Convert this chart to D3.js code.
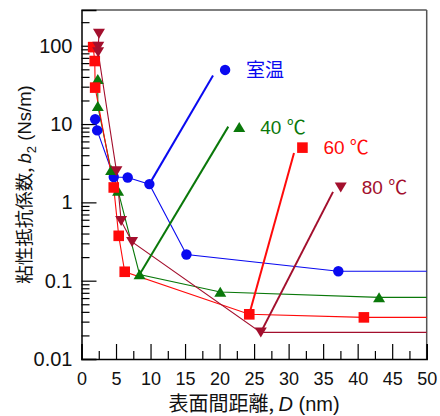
<!DOCTYPE html>
<html><head><meta charset="utf-8">
<script src="https://cdn.jsdelivr.net/npm/d3@7"></script>
<style>
html,body{margin:0;padding:0;background:#fff;}
text{font-family:"Liberation Sans",Arial,"Noto Sans CJK JP",sans-serif;}
</style></head>
<body><svg id="c" width="440" height="416"></svg>
<script>
// ---- data ----
const xTickValues = [0,5,10,15,20,25,30,35,40,45,50];
const yTickValues = [0.01,0.1,1,10,100];
const yTickLabels = ["0.01","0.1","1","10","100"];

const seriesNames = ["室温","40 ℃","60 ℃","80 ℃"];

const dRT = [1.98, 2.27, 4.67, 6.69, 9.83, 15.2, 37.2];
const bRT = [11.5, 8.3, 2.11, 2.08, 1.71, 0.216, 0.132];

const d40 = [2.36, 2.36, 4.29, 5.30, 8.41, 20.1, 43.1];
const b40 = [37.3, 16.9, 2.57, 1.40, 0.120, 0.0716, 0.0612];

const d60 = [1.69, 1.92, 1.98, 4.67, 5.39, 6.26, 24.3, 40.9];
const b60 = [96, 63.8, 29.2, 1.55, 0.374, 0.130, 0.0372, 0.0340];

const d80 = [2.53, 2.43, 2.41, 5.06, 5.74, 7.33, 25.97];
const b80 = [143, 98, 83, 2.52, 0.58, 0.313, 0.0219];

// label annotations (data coordinates)
const labelMarkD = [20.8, 22.85, 32.0, 37.55];
const labelMarkB = [49.1, 9.1, 5.0, 1.56];
const leaderStartIndex = [4, 4, 6, 6];
const leaderEndD = [19.05, 21.26, 30.78, 36.43];
const leaderEndB = [41.8, 9.27, 4.28, 1.36];

// ---- styles ----
const colors = ["#0a0af0", "#0a780a", "#ff0a0a", "#a30f2d"];
const shapes = ["circle", "up", "square", "down"];

const svg = d3.select("#c");
const L = 81.5, R = 426.7, T = 10, B = 359;
const x = d3.scaleLinear().domain([0,50]).range([L,R]);
const y = d3.scaleLog().domain([0.01, 286]).range([B,T]);

// minor ticks
const xMinor = d3.range(2.5, 50, 5);
const yMinor = [];
for (let e=-2; e<=2; e++) for (let k=2;k<=9;k++){ const v=k*Math.pow(10,e); if (v<=286) yMinor.push(v); }

const g = svg.append("g");
// frame
g.append("line").attr("x1",L).attr("x2",R).attr("y1",T).attr("y2",T).attr("stroke","#555").attr("stroke-width",1.5);
g.append("line").attr("x1",R).attr("x2",R).attr("y1",T).attr("y2",B).attr("stroke","#555").attr("stroke-width",1.5);

// x axis
const xAxis = d3.axisBottom(x).tickValues(xTickValues).tickSize(-15).tickPadding(13).tickFormat(d3.format("d"));
const xa = g.append("g").attr("transform",`translate(0,${B})`).call(xAxis);
xa.select(".domain").attr("stroke","#000").attr("stroke-width",1.5);
xa.selectAll(".tick line").attr("stroke","#000").attr("stroke-width",1.2);
xa.selectAll(".tick text").attr("font-size",18).attr("fill","#111").attr("font-family","Liberation Sans, Arial, sans-serif");
const xam = g.append("g").attr("transform",`translate(0,${B})`).call(d3.axisBottom(x).tickValues(xMinor).tickSize(-8).tickFormat(""));
xam.select(".domain").remove();
xam.selectAll(".tick line").attr("stroke","#000").attr("stroke-width",1.2);

// y axis
const yAxis = d3.axisLeft(y).tickValues(yTickValues).tickSize(-15).tickPadding(9).tickFormat((d,i)=>yTickLabels[i]);
const ya = g.append("g").attr("transform",`translate(${L},0)`).call(yAxis);
ya.select(".domain").attr("stroke","#000").attr("stroke-width",1.5);
ya.selectAll(".tick line").attr("stroke","#000").attr("stroke-width",1.2);
ya.selectAll(".tick text").attr("font-size",20).attr("fill","#111").attr("font-family","Liberation Sans, Arial, sans-serif");
const yam = g.append("g").attr("transform",`translate(${L},0)`).call(d3.axisLeft(y).tickValues(yMinor).tickSize(-8).tickFormat(""));
yam.select(".domain").remove();
yam.selectAll(".tick line").attr("stroke","#000").attr("stroke-width",1.2);

// series
const series = [[dRT,bRT],[d40,b40],[d60,b60],[d80,b80]];
const line = d3.line().x(d=>x(d[0])).y(d=>y(d[1]));

function symbolPath(shape){
  if (shape==="circle") return d3.symbol(d3.symbolCircle, Math.PI*5.2*5.2)();
  if (shape==="square") return "M-5.3,-5.3H5.3V5.3H-5.3Z";
  if (shape==="up") return "M0,-5.2L6,4.8L-6,4.8Z";
  return "M0,5.2L6,-4.8L-6,-4.8Z";
}

const dataG = svg.append("g");
series.forEach((s,i)=>{
  const pts = s[0].map((d,j)=>[d, s[1][j]]);
  const ext = pts.concat([[x.domain()[1], pts[pts.length-1][1]]]);
  dataG.append("path").attr("d", line(ext)).attr("fill","none").attr("stroke",colors[i]).attr("stroke-width",1.1);
});
// leader lines
series.forEach((s,i)=>{
  const k = leaderStartIndex[i];
  dataG.append("line")
    .attr("x1", x(s[0][k])).attr("y1", y(s[1][k]))
    .attr("x2", x(leaderEndD[i])).attr("y2", y(leaderEndB[i]))
    .attr("stroke",colors[i]).attr("stroke-width",2);
});
// markers
series.forEach((s,i)=>{
  dataG.selectAll(null).data(s[0].map((d,j)=>[d,s[1][j]])).enter().append("path")
    .attr("d", symbolPath(shapes[i]))
    .attr("transform", d=>`translate(${x(d[0])},${y(d[1])})`)
    .attr("fill", colors[i]);
});
// label markers and text
seriesNames.forEach((n,i)=>{
  const px = x(labelMarkD[i]), py = y(labelMarkB[i]);
  dataG.append("path").attr("d", symbolPath(shapes[i])).attr("transform",`translate(${px},${py})`).attr("fill",colors[i]);
  dataG.append("text").attr("x", px + 21).attr("y", py).attr("dy","0.35em")
    .attr("font-size",19).attr("fill",colors[i])
    .attr("font-family", i===0 ? "Noto Sans CJK JP, sans-serif" : "Liberation Sans, Arial, Noto Sans CJK JP, sans-serif")
    .text(n);
});

// axis titles
const xt = svg.append("text").attr("x",(L+R)/2).attr("y",411).attr("text-anchor","middle").attr("font-size",20).attr("fill","#111");
xt.append("tspan").attr("font-family","Noto Sans CJK JP, sans-serif").text("表面間距離, ");
xt.append("tspan").attr("font-style","italic").text("D");
xt.append("tspan").text(" (nm)");

const yt = svg.append("text").attr("transform",`translate(31,${(T+B)/2}) rotate(-90)`).attr("text-anchor","middle").attr("font-size",18.5).attr("fill","#111");
yt.append("tspan").attr("font-family","Noto Sans CJK JP, sans-serif").text("粘性抵抗係数, ");
yt.append("tspan").attr("font-style","italic").text("b");
yt.append("tspan").attr("font-size",13).attr("dy",5).text("2");
yt.append("tspan").attr("dy",-5).text(" (Ns/m)");
</script>
</body></html>
